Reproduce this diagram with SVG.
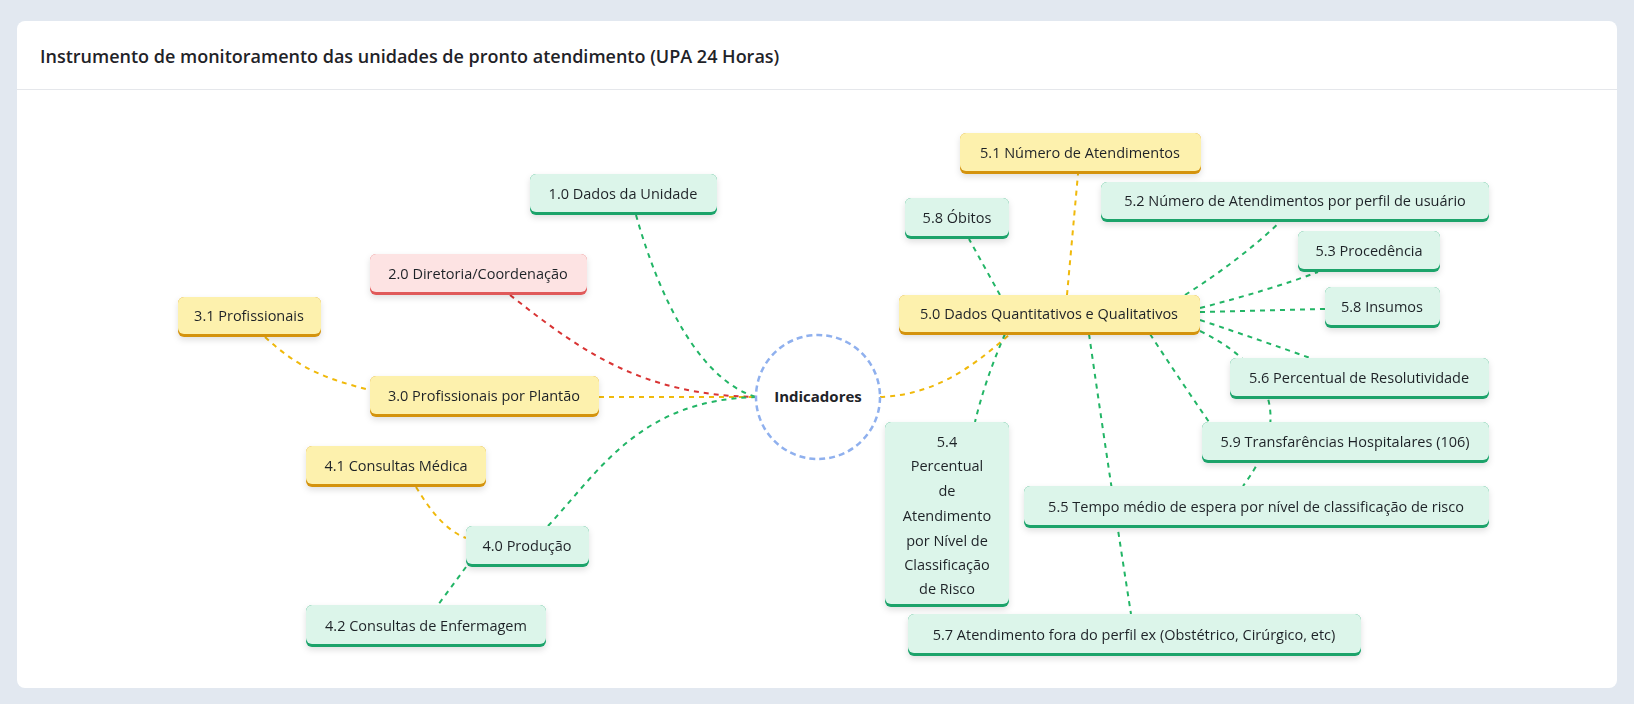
<svg xmlns="http://www.w3.org/2000/svg" width="1634" height="704" viewBox="0 0 1634 704">
<defs>
<style>
text{font-family:"Open Sans","Noto Sans","Liberation Sans",sans-serif;font-size:14.5px;fill:#1f2328;text-anchor:middle}
.g .b{fill:#1aa36b}.g .f{fill:#dcf5ea}
.y .b{fill:#d4930f}.y .f{fill:#fdf1ad}
.r .b{fill:#e05a5a}.r .f{fill:#fde3e3}
.e{fill:none;stroke-width:2;stroke-dasharray:5 5}
.eg{stroke:#22b566}.ey{stroke:#f0b90b}.er{stroke:#d93434}
.n{filter:url(#sh)}
</style>
<filter id="sh" x="-20%" y="-30%" width="140%" height="180%"><feDropShadow dx="0" dy="3" stdDeviation="3" flood-color="#000" flood-opacity="0.12"/></filter>
</defs>
<rect width="1634" height="704" fill="#e2e8f0"/>
<rect x="17" y="21" width="1600" height="667" rx="8" fill="#fff"/>
<line x1="17" y1="89.5" x2="1617" y2="89.5" stroke="#e5e7eb"/>
<text x="40" y="63" style="text-anchor:start;font-size:18px;font-weight:600">Instrumento de monitoramento das unidades de pronto atendimento (UPA 24 Horas)</text>
<g id="connectors">
<path class="e eg" d="M636,215 C660,300 700,380 756,397"/>
<path class="e er" d="M510,295 C580,350 640,395 756,397"/>
<path class="e ey" d="M599,397 L756,397"/>
<path class="e eg" d="M548,526 C600,470 640,400 756,397"/>
<path class="e ey" d="M265,337 C300,370 330,380 370,390"/>
<path class="e ey" d="M416,487 C430,510 445,530 466,538"/>
<path class="e eg" d="M466,567 L438,605"/>
<path class="e ey" d="M880,397 C940,395 980,360 1010,334"/>
<path class="e ey" d="M1067,295 Q1072,240 1078,174"/>
<path class="e eg" d="M1000,295 L969,239"/>
<path class="e eg" d="M1185,295 Q1240,260 1280,222"/>
<path class="e eg" d="M1200,308 Q1270,290 1318,272"/>
<path class="e eg" d="M1200,312 L1325,309"/>
<path class="e eg" d="M1200,320 Q1260,340 1310,358"/>
<path class="e eg" d="M1200,331 C1260,360 1300,410 1243,486"/>
<path class="e eg" d="M1150,334 Q1180,380 1209,422"/>
<path class="e eg" d="M1089,334 Q1110,480 1131,614"/>
<path class="e eg" d="M1005,334 Q985,380 975,422"/>
</g>
<g id="center"><circle cx="818" cy="397" r="62" fill="#fff" stroke="#8fb0ee" stroke-width="2.5" stroke-dasharray="6 4"/><text x="818" y="402" style="font-weight:700;font-size:15px">Indicadores</text></g>
<g id="n10" class="n g"><rect class="b" x="530" y="174" width="187" height="41" rx="6"/><rect class="f" x="530" y="174" width="187" height="38" rx="6"/><text x="623" y="199">1.0 Dados da Unidade</text></g>
<g id="n20" class="n r"><rect class="b" x="370" y="254" width="217" height="41" rx="6"/><rect class="f" x="370" y="254" width="217" height="38" rx="6"/><text x="478" y="279">2.0 Diretoria/Coordenação</text></g>
<g id="n31" class="n y"><rect class="b" x="178" y="297" width="143" height="40" rx="6"/><rect class="f" x="178" y="297" width="143" height="37" rx="6"/><text x="249" y="321">3.1 Profissionais</text></g>
<g id="n30" class="n y"><rect class="b" x="370" y="376" width="229" height="41" rx="6"/><rect class="f" x="370" y="376" width="229" height="38" rx="6"/><text x="484" y="401">3.0 Profissionais por Plantão</text></g>
<g id="n41" class="n y"><rect class="b" x="306" y="446" width="180" height="41" rx="6"/><rect class="f" x="306" y="446" width="180" height="38" rx="6"/><text x="396" y="471">4.1 Consultas Médica</text></g>
<g id="n40" class="n g"><rect class="b" x="466" y="526" width="123" height="41" rx="6"/><rect class="f" x="466" y="526" width="123" height="38" rx="6"/><text x="527" y="551">4.0 Produção</text></g>
<g id="n42" class="n g"><rect class="b" x="306" y="605" width="240" height="42" rx="6"/><rect class="f" x="306" y="605" width="240" height="39" rx="6"/><text x="426" y="631">4.2 Consultas de Enfermagem</text></g>
<g id="n51" class="n y"><rect class="b" x="960" y="133" width="241" height="41" rx="6"/><rect class="f" x="960" y="133" width="241" height="38" rx="6"/><text x="1080" y="158">5.1 Número de Atendimentos</text></g>
<g id="n58o" class="n g"><rect class="b" x="905" y="198" width="104" height="41" rx="6"/><rect class="f" x="905" y="198" width="104" height="38" rx="6"/><text x="957" y="223">5.8 Óbitos</text></g>
<g id="n52" class="n g"><rect class="b" x="1101" y="182" width="388" height="40" rx="6"/><rect class="f" x="1101" y="182" width="388" height="37" rx="6"/><text x="1295" y="206">5.2 Número de Atendimentos por perfil de usuário</text></g>
<g id="n53" class="n g"><rect class="b" x="1298" y="231" width="142" height="41" rx="6"/><rect class="f" x="1298" y="231" width="142" height="38" rx="6"/><text x="1369" y="256">5.3 Procedência</text></g>
<g id="n50" class="n y"><rect class="b" x="899" y="295" width="301" height="40" rx="6"/><rect class="f" x="899" y="295" width="301" height="37" rx="6"/><text x="1049" y="319">5.0 Dados Quantitativos e Qualitativos</text></g>
<g id="n58i" class="n g"><rect class="b" x="1325" y="287" width="115" height="41" rx="6"/><rect class="f" x="1325" y="287" width="115" height="38" rx="6"/><text x="1382" y="312">5.8 Insumos</text></g>
<g id="n56" class="n g"><rect class="b" x="1230" y="358" width="259" height="41" rx="6"/><rect class="f" x="1230" y="358" width="259" height="38" rx="6"/><text x="1359" y="383">5.6 Percentual de Resolutividade</text></g>
<g id="n59" class="n g"><rect class="b" x="1202" y="422" width="287" height="41" rx="6"/><rect class="f" x="1202" y="422" width="287" height="38" rx="6"/><text x="1345" y="447">5.9 Transfarências Hospitalares (106)</text></g>
<g id="n54" class="n g"><rect class="b" x="885" y="422" width="124" height="185" rx="6"/><rect class="f" x="885" y="422" width="124" height="182" rx="6"/>
<text x="947" y="447">5.4</text><text x="947" y="471">Percentual</text><text x="947" y="496">de</text><text x="947" y="521">Atendimento</text><text x="947" y="546">por Nível de</text><text x="947" y="570">Classificação</text><text x="947" y="594">de Risco</text></g>
<g id="n55" class="n g"><rect class="b" x="1024" y="486" width="465" height="42" rx="6"/><rect class="f" x="1024" y="486" width="465" height="39" rx="6"/><text x="1256" y="512">5.5 Tempo médio de espera por nível de classificação de risco</text></g>
<g id="n57" class="n g"><rect class="b" x="908" y="614" width="453" height="42" rx="6"/><rect class="f" x="908" y="614" width="453" height="39" rx="6"/><text x="1134" y="640">5.7 Atendimento fora do perfil ex (Obstétrico, Cirúrgico, etc)</text></g>
</svg>
